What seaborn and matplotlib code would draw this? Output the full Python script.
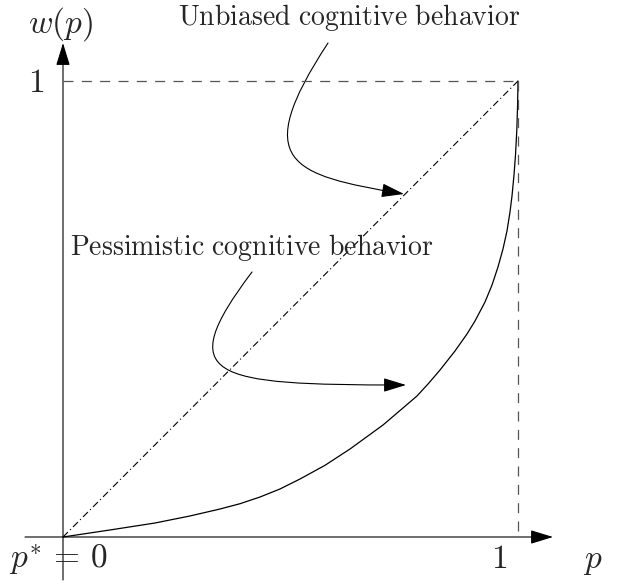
import numpy as np
import pandas as pd
import matplotlib
matplotlib.use("Agg")
import matplotlib.pyplot as plt
import seaborn as sns
from matplotlib.patches import FancyArrowPatch
from matplotlib.path import Path

# ---- data ----
p_vals = [0.0, 0.1033, 0.2022, 0.2791, 0.3451, 0.3890, 0.4330, 0.4769, 0.5209,
          0.5758, 0.6308, 0.7033, 0.7407, 0.7780, 0.8022, 0.8286, 0.8615,
          0.8879, 0.9055, 0.9275, 0.9429, 0.9560, 0.9670, 0.9758, 0.9824,
          0.9868, 0.9912, 0.9945, 0.9974, 0.9991, 1.0]
w_vals = [0.0, 0.0154, 0.0307, 0.0461, 0.0614, 0.0730, 0.0877, 0.1053, 0.1272,
          0.1572, 0.1930, 0.2456, 0.2774, 0.3092, 0.3355, 0.3662, 0.4079,
          0.4452, 0.4737, 0.5154, 0.5526, 0.5921, 0.6316, 0.6711, 0.7127,
          0.7478, 0.7939, 0.8377, 0.8925, 0.9474, 1.0]
diag_p = [0.0, 1.0]
diag_w = [0.0, 1.0]
label_unbiased = "Unbiased cognitive behavior"
label_pessimistic = "Pessimistic cognitive behavior"

sns.set_theme(style="white")
plt.rcParams["mathtext.fontset"] = "cm"
plt.rcParams["lines.scale_dashes"] = False

fig = plt.figure(figsize=(6.18, 5.81), dpi=100)
ax = fig.add_axes([0, 0, 1, 1])
ax.set_axis_off()

# pixel -> data mapping: origin at px (63,537), unit 455 px in x, 456 px in y
UX, UY = 455.0, 456.0
ax.set_xlim(-63 / UX, 555 / UX)
ax.set_ylim(-44 / UY, 537 / UY)

def px(x, y):
    return ((x - 63) / UX, (537 - y) / UY)

df = pd.DataFrame({"p": p_vals, "w": w_vals})
sns.lineplot(data=df, x="p", y="w", color="black", lw=0.9, ax=ax,
             sort=False, estimator=None)

# diagonal (dash-dot)
ax.plot(diag_p, diag_w, color="black", lw=0.8,
        linestyle=(0, (5.0, 2.2, 0.8, 2.2)))

# dashed guides
ax.plot([0, 1], [1, 1], color="#555555", lw=0.9, linestyle=(0, (7.2, 6.0)))
ax.plot([1, 1], [1, 0], color="#555555", lw=0.9, linestyle=(0, (7.2, 6.0)))

# axes with arrows
arrow_kw = dict(arrowstyle="-|>,head_length=14,head_width=4.3",
                color="black", lw=0.8, shrinkA=0, shrinkB=0, mutation_scale=1)
ax.add_patch(FancyArrowPatch(px(25, 537), px(553, 537), **arrow_kw))
ax.add_patch(FancyArrowPatch(px(63, 580), px(63, 43), **arrow_kw))

# annotation arrows (cubic Bezier)
upper = Path([px(328, 43), px(250, 162), px(290, 175), px(404, 194)],
             [Path.MOVETO, Path.CURVE4, Path.CURVE4, Path.CURVE4])
lower = Path([px(252, 272), px(172, 378), px(210, 385), px(406, 385)],
             [Path.MOVETO, Path.CURVE4, Path.CURVE4, Path.CURVE4])
for pth in (upper, lower):
    ax.add_patch(FancyArrowPatch(path=pth, **arrow_kw))

# texts
fs_text = 20
fs_math = 24
def mrm(s):
    return r"$\mathrm{" + s.replace(" ", r"\ ") + "}$"

ax.text(*px(349, 25), mrm(label_unbiased), fontsize=fs_text,
        ha="center", va="baseline")
ax.text(*px(252, 255), mrm(label_pessimistic), fontsize=fs_text,
        ha="center", va="baseline")
ax.text(*px(61, 33), r"$w(p)$", fontsize=fs_math, ha="center", va="baseline")
ax.text(*px(36, 92), r"$1$", fontsize=fs_math, ha="center", va="baseline")
ax.text(*px(58, 568), r"$p^{*}\,=\,0$", fontsize=fs_math, ha="center",
        va="baseline")
ax.text(*px(499, 568), r"$1$", fontsize=fs_math, ha="center", va="baseline")
ax.text(*px(593, 568), r"$p$", fontsize=fs_math, ha="center", va="baseline")

fig.savefig("out.png", dpi=100)
